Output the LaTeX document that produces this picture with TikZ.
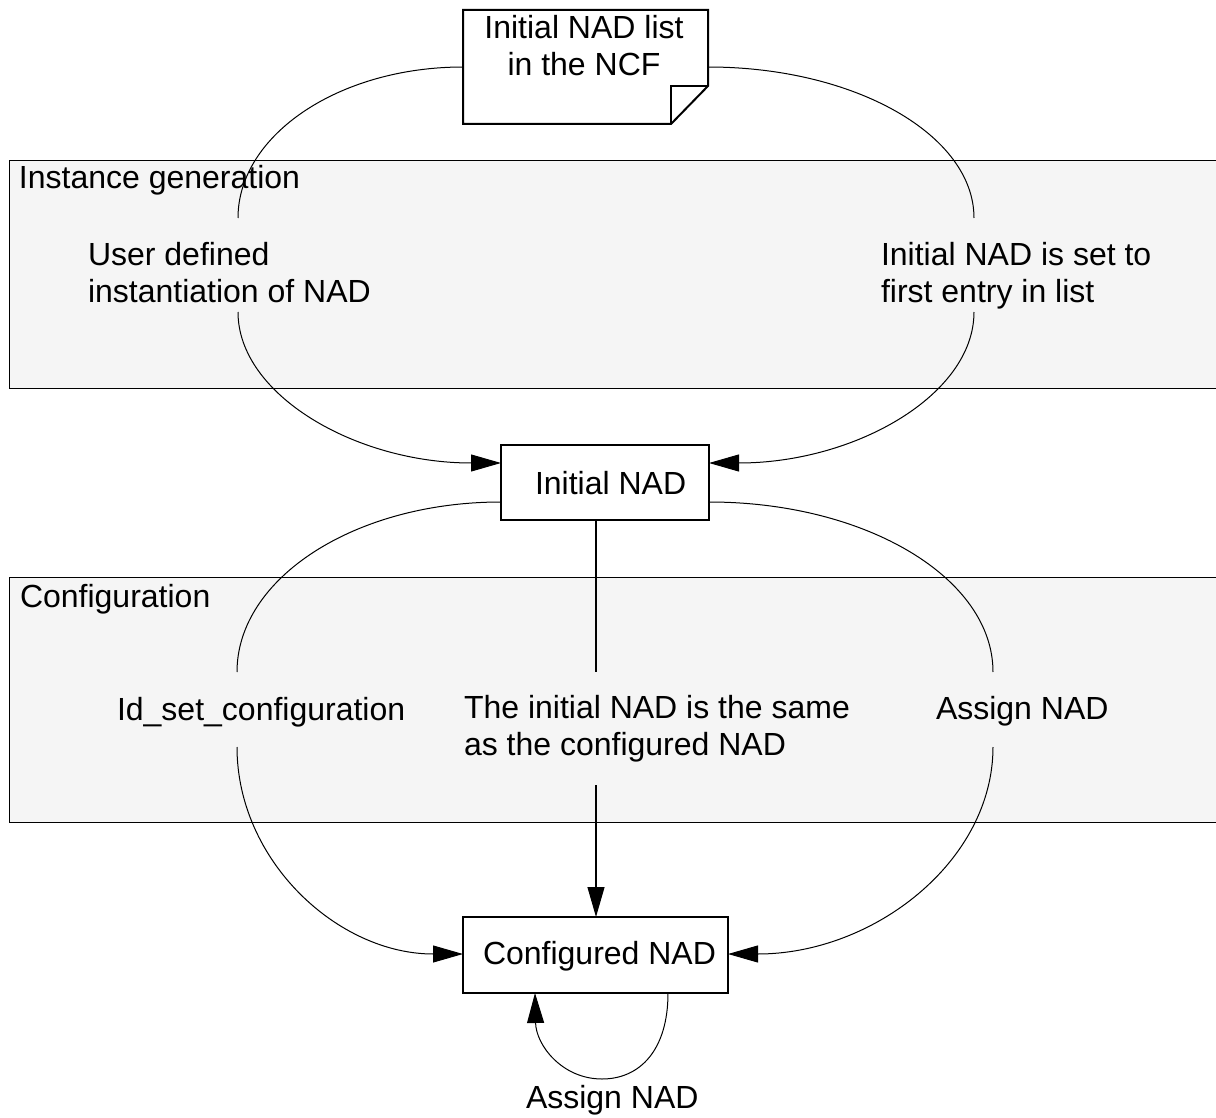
\documentclass[tikz,border=0pt]{standalone}
\usepackage{fontspec}
\setmainfont{Liberation Sans}
\usetikzlibrary{arrows.meta}
\definecolor{bandgray}{HTML}{F5F5F5}
\begin{document}
\begin{tikzpicture}[x=1pt,y=-1pt,
  every node/.style={font=\fontsize{32}{37}\selectfont, inner sep=0pt, outer sep=0pt},
  band/.style={draw=black, line width=1pt, fill=bandgray},
  conn/.style={draw=black, line width=1pt},
  arr/.style={conn, -{Triangle[length=30pt,width=17pt]}},
  boxst/.style={draw=black, line width=2pt, fill=white, rectangle},
  lbl/.style={anchor=base west, align=left}
]
\useasboundingbox (0,0) rectangle (1216,1118);
\fill[white] (0,0) rectangle (1216,1118);

% bands
\path[band] (9,161) rectangle (1230,388);
\path[band] (9,577) rectangle (1230,822);
\node[lbl] (bandA) at (19,189) {Instance generation};
\node[lbl] (bandB) at (20,607) {Configuration};

% document node
\node[minimum width=245pt, minimum height=114pt] (doc) at (585.5,67) {};
\path[draw=black, line width=2pt, fill=white]
  (doc.north west) -- (doc.north east) -- ([yshift=38pt]doc.south east)
  -- ([xshift=-37pt]doc.south east) -- (doc.south west) -- cycle;
\draw[line width=1.5pt] ([yshift=38pt]doc.south east) -- ([xshift=-37pt,yshift=38pt]doc.south east)
  -- ([xshift=-37pt]doc.south east);
\node[align=center] (doctext) at (584,46) {Initial NAD list\\in the NCF};

% boxes
\node[boxst, minimum width=208pt, minimum height=75pt] (ini) at (605,482.5) {};
\node[anchor=base west] (initext) at (535,494) {Initial NAD};
\node[boxst, minimum width=265pt, minimum height=76pt] (conf) at (595.5,955) {};
\node[anchor=base west] (conftext) at (483,964) {Configured NAD};

% labels (base = baseline of last line)
\node[lbl] (lab1) at (88,302) {User defined\\instantiation of NAD};
\node[lbl] (lab2) at (881,302) {Initial NAD is set to\\first entry in list};
\node[lbl] (lab3) at (117,720) {Id\_set\_configuration};
\node[lbl] (lab4) at (464,755) {The initial NAD is the same\\as the configured NAD};
\node[lbl] (lab5) at (936,719) {Assign NAD};
\node[lbl] (lab6) at (526,1108) {Assign NAD};

% connector ends near labels
\coordinate (a1) at (238,218);
\coordinate (a2) at (238,312);
\coordinate (b1) at (974,218);
\coordinate (b2) at (974,312);
\coordinate (c1) at (237,672);
\coordinate (c2) at (237,747);
\coordinate (d1) at (596,672);
\coordinate (d2) at (596,785);
\coordinate (e1) at (993,672);
\coordinate (e2) at (993,747);
\coordinate (iniInL) at (501,463);
\coordinate (iniInR) at (709,463);
\coordinate (iniOutL) at (501,502);
\coordinate (iniOutR) at (709,502);
\coordinate (confInL) at (463,954);
\coordinate (confInR) at (728,954);
\coordinate (loopS) at (668,993);
\coordinate (loopE) at (535,993);
\coordinate (loopB) at (602,1079);

% connectors: instance generation
\draw[conn] (doc.west) .. controls (339,67) and (238,135) .. (a1);
\draw[arr] (a2) .. controls (238,395) and (356,463) .. (iniInL);
\draw[conn] (doc.east) .. controls (855,67) and (974,135) .. (b1);
\draw[arr] (b2) .. controls (974,395) and (855,463) .. (iniInR);

% connectors: configuration
\draw[conn] (iniOutL) .. controls (355,502) and (237,578) .. (c1);
\draw[arr] (c2) .. controls (237,861) and (338,954) .. (confInL);
\draw[conn, line width=1.5pt] (ini.south -| d1) -- (d1);
\draw[arr, line width=1.2pt] (d2) -- (conf.north -| d2);
\draw[conn] (iniOutR) .. controls (866,502) and (993,578) .. (e1);
\draw[arr] (e2) .. controls (993,861) and (874,954) .. (confInR);

% self loop
\draw[arr] (loopS) .. controls (668,1050) and (640,1079) .. (loopB)
  .. controls (562,1079) and (536,1045) .. (loopE);
\end{tikzpicture}
\end{document}
